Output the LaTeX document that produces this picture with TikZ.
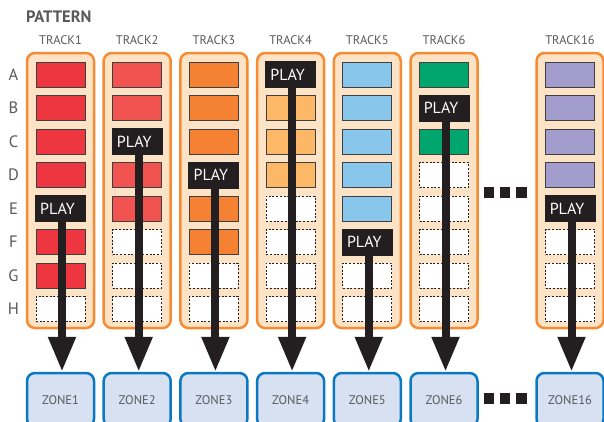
\documentclass[tikz,border=0pt]{standalone}
\usepackage{fontspec}
\setmainfont{PT Sans}
\usetikzlibrary{arrows.meta}
\definecolor{txt}{HTML}{58595B}
\definecolor{ink}{HTML}{231F20}
\definecolor{panelfill}{HTML}{FDE3C6}
\definecolor{paneldraw}{HTML}{F68B33}
\definecolor{zonefill}{HTML}{D8E1F2}
\definecolor{zonedraw}{HTML}{0A79C1}
\definecolor{celldraw}{HTML}{3F3F3F}
\definecolor{trk1}{HTML}{EE3640}
\definecolor{trk2}{HTML}{F05350}
\definecolor{trk3}{HTML}{F58232}
\definecolor{trk4}{HTML}{FDB867}
\definecolor{trk5}{HTML}{88C7EB}
\definecolor{trk6}{HTML}{00A66E}
\definecolor{trk16}{HTML}{A29DCC}
\begin{document}
\begin{tikzpicture}[x=1pt,y=-1pt,
  panel/.style={draw=paneldraw,fill=panelfill,line width=2.5pt,rounded corners=8pt,minimum width=67pt,minimum height=275pt,inner sep=0pt},
  zone/.style={draw=zonedraw,fill=zonefill,line width=2.5pt,rounded corners=8pt,minimum width=67pt,minimum height=54pt,inner sep=0pt,text=txt,font=\fontsize{12.5}{12.5}\selectfont},
  cellbase/.style={minimum width=49pt,minimum height=25pt,inner sep=0pt,line width=0.9pt},
  cf/.style={cellbase,draw=celldraw},
  ce/.style={cellbase,draw=ink,fill=white,line width=1pt,dash pattern=on 2pt off 1.7pt},
  cp/.style={cellbase},
  play/.style={fill=ink,text=white,minimum width=51pt,minimum height=27pt,inner sep=0pt,font=\fontsize{16}{16}\selectfont},
  tracklbl/.style={text=txt,font=\fontsize{12.5}{12.5}\selectfont,inner sep=0pt},
  rowlbl/.style={text=txt,font=\fontsize{16.5}{16.5}\selectfont,inner sep=0pt},
  dotsq/.style={fill=ink,minimum size=10.5pt,inner sep=0pt},
  arrowline/.style={draw=ink,line width=8pt,-{Triangle[width=26pt,length=35pt]}}
]
\useasboundingbox (0,0) rectangle (604,421);
\clip (0,0) rectangle (604,421);

\node[anchor=west,text=txt,font=\bfseries\fontsize{16.5}{16.5}\selectfont,inner sep=0pt] (title) at (26,17) {PATTERN};

\foreach \l [count=\r] in {A,B,C,D,E,F,G,H}
  \node[rowlbl] (row\l) at (13.5,{74.5+33.5*(\r-1)}) {\l};

\foreach \t/\cx/\states in {
   1/60.5/{cf,cf,cf,cf,cp,cf,cf,ce},
   2/137.2/{cf,cf,cp,cf,cf,ce,ce,ce},
   3/213.9/{cf,cf,cf,cp,cf,cf,ce,ce},
   4/290.6/{cp,cf,cf,cf,ce,ce,ce,ce},
   5/367.3/{cf,cf,cf,cf,cf,cp,ce,ce},
   6/444.0/{cf,cp,cf,ce,ce,ce,ce,ce},
   16/570.0/{cf,cf,cf,cf,cp,ce,ce,ce}} {
  \node[panel] (p\t) at (\cx,190.5) {};
  \node[tracklbl] (tl\t) at (\cx,40) {TRACK\t};
  \node[zone] (z\t) at (\cx,400) {ZONE\t};
  \foreach \s [count=\r] in \states {
    \node[\s,fill=trk\t] (c\t-\r) at (\cx,{74.5+33.5*(\r-1)}) {};
  }
}
% white fill for empty cells overrides track colour
\foreach \t/\rows in {1/{8},2/{6,7,8},3/{7,8},4/{5,6,7,8},5/{7,8},6/{4,5,6,7,8},16/{6,7,8}}
  \foreach \r in \rows
    \node[ce] at (c\t-\r) {};

\foreach \t/\r in {1/5,2/3,3/4,4/1,5/6,6/2,16/5} {
  \node[play] (play\t) at (c\t-\r) {\hspace*{-6pt}PLAY};
  \draw[arrowline] ([xshift=1.5pt]play\t.south) -- ([xshift=1.5pt]z\t.north);
}

\node[dotsq] (d1) at (489,192.5) {};
\node[dotsq] (d2) at (505,192.5) {};
\node[dotsq] (d3) at (521.5,192.5) {};
\node[dotsq] (e1) at (489,398.5) {};
\node[dotsq] (e2) at (505,398.5) {};
\node[dotsq] (e3) at (521.5,398.5) {};
\end{tikzpicture}
\end{document}
